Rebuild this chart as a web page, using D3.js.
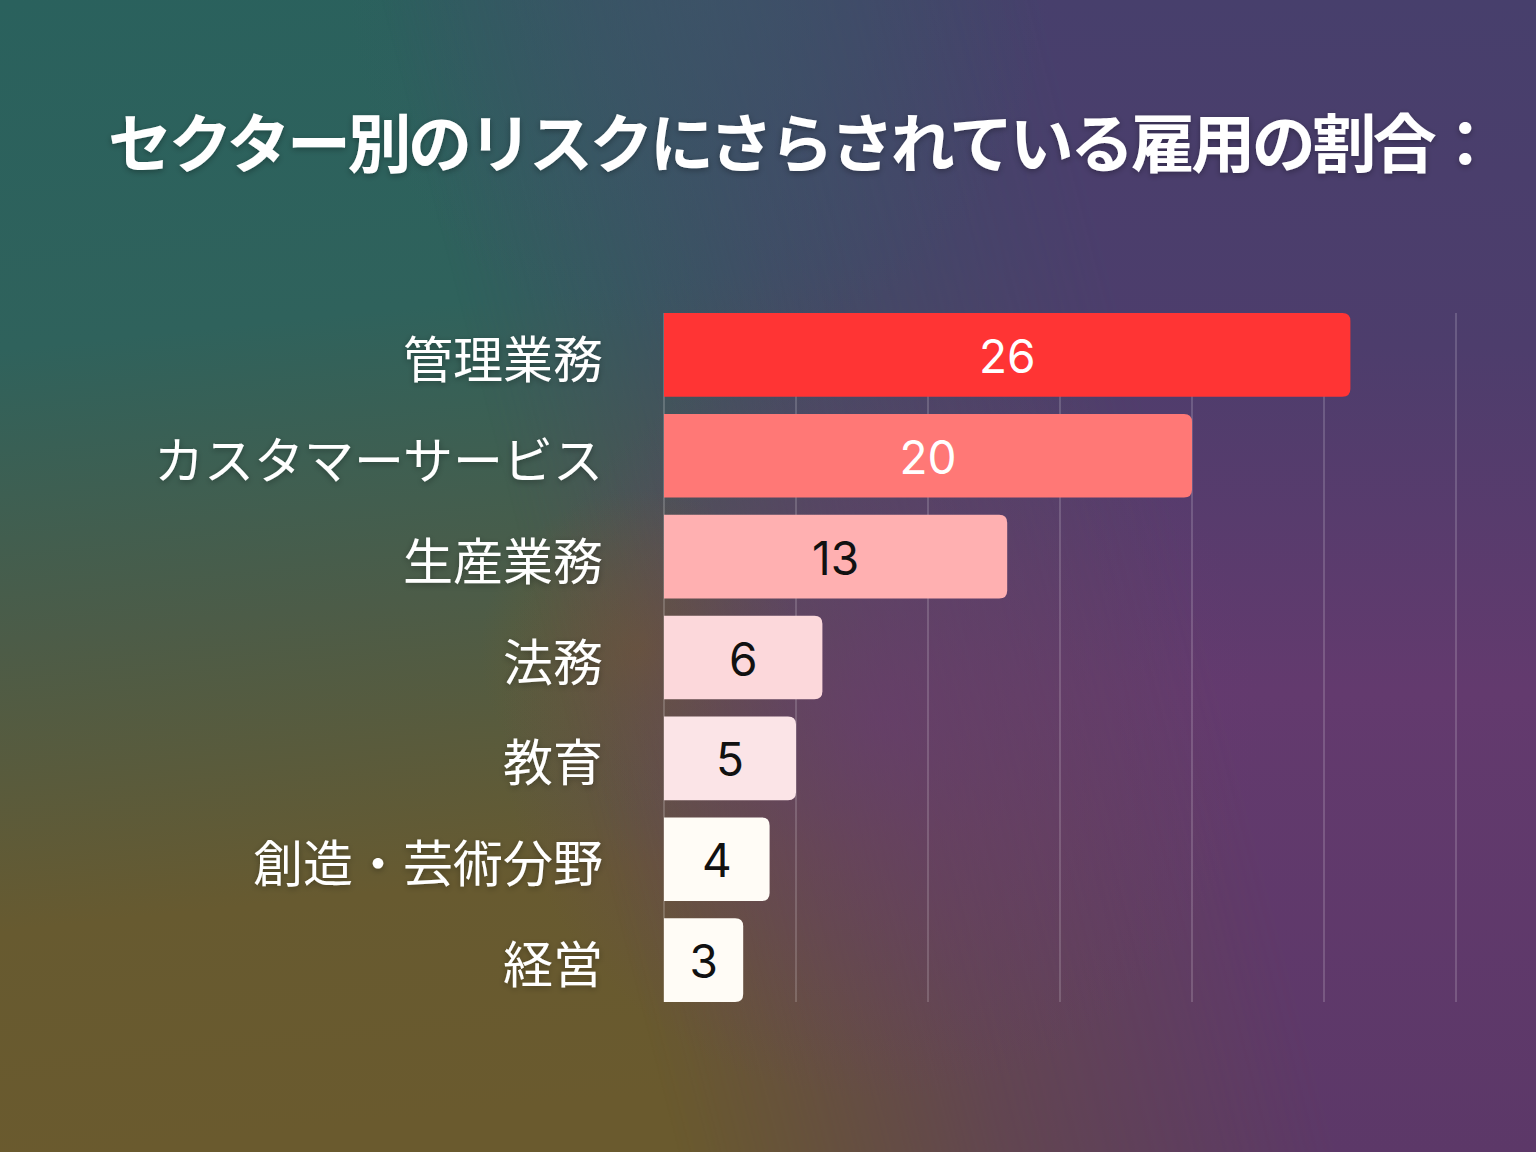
<!DOCTYPE html>
<html><head><meta charset="utf-8">
<script src="https://cdn.jsdelivr.net/npm/d3@7"></script>
<style>html,body{margin:0;padding:0;background:#4a3e6a;}svg{display:block;}</style>
</head><body>
<script>
const categories = ["管理業務","カスタマーサービス","生産業務","法務","教育","創造・芸術分野","経営"];
const values = [26,20,13,6,5,4,3];
const barColors = ["#ff3434","#ff7876","#ffb0b1","#fcd8db","#fbe4e7","#fffcf6","#fffcf6"];
const labelColors = ["#ffffff","#ffffff","#111111","#111111","#111111","#111111","#111111"];
const xTicks = [5,10,15,20,25,30];
const title = "セクター別のリスクにさらされている雇用の割合：";

const W=1536,H=1152;
const svg=d3.select("body").append("svg").attr("width",W).attr("height",H);
const defs=svg.append("defs");
function grad(id,x1,y1,x2,y2,stops){
  const g=defs.append("linearGradient").attr("id",id).attr("gradientUnits","userSpaceOnUse")
    .attr("x1",x1).attr("y1",y1).attr("x2",x2).attr("y2",y2);
  stops.forEach(s=>g.append("stop").attr("offset",s[0]).attr("stop-color",s[1]).attr("stop-opacity",s[2]==null?1:s[2]));
}
grad("left",0,0,120,1152,[[0,"#2a615d"],[0.3,"#2f625c"],[0.55,"#4c5c48"],[0.8,"#675a30"],[1,"#6a5a2e"]]);
grad("right",0,0,0,1152,[[0,"#473f6c"],[0.3,"#4d3d6c"],[0.6,"#633a6e"],[1,"#5c3868"]]);
grad("mk",380,0,1000,-160,[[0,"#fff",0],[0.5,"#fff",0.6],[1,"#fff",1]]);
const mask=defs.append("mask").attr("id","m");
mask.append("rect").attr("width",W).attr("height",H).attr("fill","url(#mk)");
const ro=defs.append("radialGradient").attr("id","spot").attr("gradientUnits","userSpaceOnUse")
  .attr("cx",640).attr("cy",650).attr("r",160);
ro.append("stop").attr("offset",0).attr("stop-color","#6e5a2c").attr("stop-opacity",0.7);
ro.append("stop").attr("offset",1).attr("stop-color","#6e5a2c").attr("stop-opacity",0);
const rb=defs.append("radialGradient").attr("id","topblue").attr("gradientUnits","userSpaceOnUse")
  .attr("cx",700).attr("cy",0).attr("r",350);
rb.append("stop").attr("offset",0).attr("stop-color","#3d5668").attr("stop-opacity",0.6);
rb.append("stop").attr("offset",1).attr("stop-color","#3d5668").attr("stop-opacity",0);
const rp=defs.append("radialGradient").attr("id","mid").attr("gradientUnits","userSpaceOnUse")
  .attr("cx",880).attr("cy",720).attr("r",380);
rp.append("stop").attr("offset",0).attr("stop-color","#693a72").attr("stop-opacity",0.6);
rp.append("stop").attr("offset",1).attr("stop-color","#693a72").attr("stop-opacity",0);

const sh=defs.append("filter").attr("id","sh").attr("x","-10%").attr("y","-30%").attr("width","120%").attr("height","160%");
sh.append("feDropShadow").attr("dx",0).attr("dy",2).attr("stdDeviation",3).attr("flood-color","#000").attr("flood-opacity",0.3);

svg.append("rect").attr("width",W).attr("height",H).attr("fill","url(#left)");
svg.append("rect").attr("width",W).attr("height",H).attr("fill","url(#right)").attr("mask","url(#m)");
svg.append("rect").attr("width",W).attr("height",H).attr("fill","url(#spot)");
svg.append("rect").attr("width",W).attr("height",H).attr("fill","url(#topblue)");
svg.append("rect").attr("width",W).attr("height",H).attr("fill","url(#mid)");

svg.append("text").attr("x",108).attr("y",167).text(title)
  .attr("fill","#fff").attr("font-family","'Noto Sans CJK JP'").attr("font-weight",700)
  .attr("font-size",64).attr("letter-spacing",-3.5).attr("filter","url(#sh)");

const x=d3.scaleLinear().domain([0,30]).range([664,1456]);
const y=d3.scaleBand().domain(categories).range([313,1002]).paddingInner(0.17).paddingOuter(0);

const grid=svg.append("g");
grid.selectAll("line").data(xTicks).join("line")
  .attr("x1",d=>x(d)).attr("x2",d=>x(d)).attr("y1",313).attr("y2",1002)
  .attr("stroke","#ffffff").attr("stroke-opacity",0.28).attr("stroke-width",1.2);
svg.append("line").attr("x1",x(0)).attr("x2",x(0)).attr("y1",313).attr("y2",1002)
  .attr("stroke","#ffffff").attr("stroke-opacity",0.3).attr("stroke-width",1.2);

const rr=8;
function barPath(x0,y0,w,h){
  return `M${x0},${y0}H${x0+w-rr}Q${x0+w},${y0} ${x0+w},${y0+rr}V${y0+h-rr}Q${x0+w},${y0+h} ${x0+w-rr},${y0+h}H${x0}Z`;
}
const data=categories.map((c,i)=>({c,v:values[i],col:barColors[i],lc:labelColors[i]}));
svg.append("g").selectAll("path").data(data).join("path")
  .attr("d",d=>barPath(x(0),y(d.c),x(d.v)-x(0),y.bandwidth()))
  .attr("fill",d=>d.col);
svg.append("g").selectAll("text").data(data).join("text")
  .attr("x",d=>(x(0)+x(d.v))/2).attr("y",d=>y(d.c)+y.bandwidth()/2+1)
  .attr("text-anchor","middle").attr("dominant-baseline","central")
  .attr("font-family","Inter, 'Noto Sans'").attr("font-size",46).attr("fill",d=>d.lc)
  .text(d=>d.v);
svg.append("g").selectAll("text").data(data).join("text")
  .attr("x",603).attr("y",d=>y(d.c)+y.bandwidth()/2+1)
  .attr("text-anchor","end").attr("dominant-baseline","central")
  .attr("font-family","'Noto Sans CJK JP'").attr("font-size",50).attr("fill","#fff")
  .attr("filter","url(#sh)")
  .text(d=>d.c);
</script>
</body></html>
